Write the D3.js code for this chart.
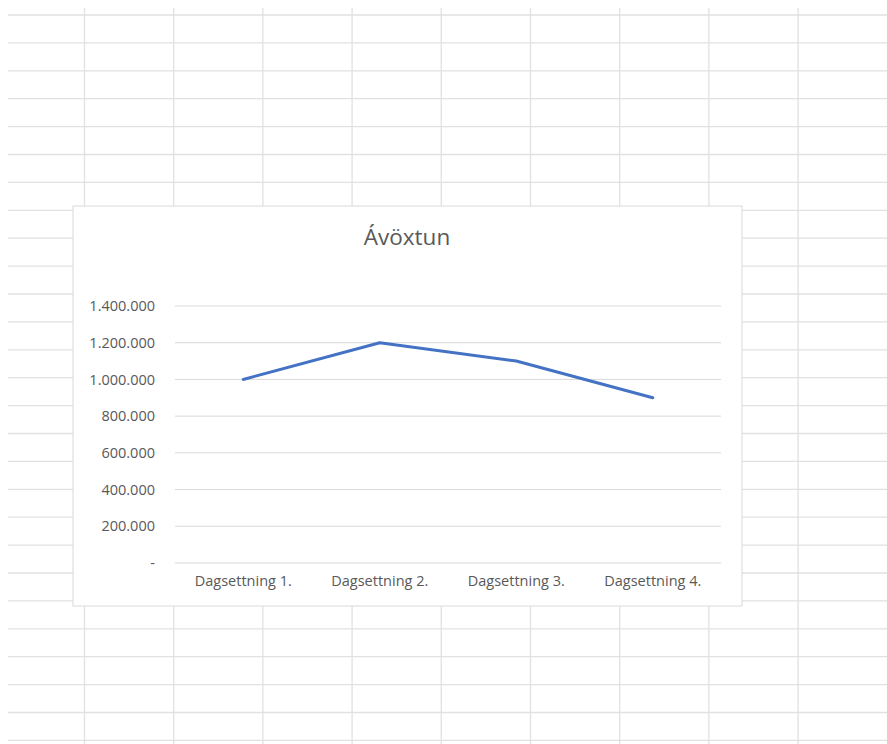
<!DOCTYPE html>
<html>
<head>
<meta charset="utf-8">
<script src="https://cdn.jsdelivr.net/npm/d3@7"></script>
<style>
  body { margin: 0; background: #fff; }
  svg { display: block; }
</style>
</head>
<body>
<div id="canvas"></div>
<script>
// data
const categories = ["Dagsettning 1.", "Dagsettning 2.", "Dagsettning 3.", "Dagsettning 4."];
const values = [1000000, 1200000, 1100000, 900000];
const yTicks = [0, 200000, 400000, 600000, 800000, 1000000, 1200000, 1400000];
const title = "Ávöxtun";

const width = 887;
const height = 744;

const svg = d3.select("#canvas").append("svg")
    .attr("width", width)
    .attr("height", height);

// spreadsheet cells behind the chart
const sheet = svg.append("g").attr("stroke", "#e1e1e1").attr("stroke-width", 1.3);
sheet.selectAll("line.row").data(d3.range(15, height, 27.9)).enter().append("line")
    .attr("x1", 8).attr("x2", width)
    .attr("y1", d => d).attr("y2", d => d);
sheet.selectAll("line.col").data(d3.range(84.5, width, 89.2)).enter().append("line")
    .attr("x1", d => d).attr("x2", d => d)
    .attr("y1", 8).attr("y2", height);

// chart box
const box = { x: 73, y: 206, w: 669, h: 400 };
svg.append("rect")
    .attr("x", box.x).attr("y", box.y)
    .attr("width", box.w).attr("height", box.h)
    .attr("fill", "#fff")
    .attr("stroke", "#d9d9d9");

svg.append("text")
    .attr("x", 407).attr("y", 245)
    .attr("text-anchor", "middle")
    .attr("font-family", "Open Sans, sans-serif")
    .attr("font-size", 22.5)
    .attr("fill", "#595959")
    .text(title);

const margin = { top: 306, left: 175, right: 721, bottom: 563 };

const x = d3.scaleBand()
    .domain(categories)
    .range([margin.left, margin.right]);

const y = d3.scaleLinear()
    .domain([0, 1400000])
    .range([margin.bottom, margin.top]);

const fmt = d => d === 0 ? "-" : d3.format(",")(d).replace(/,/g, ".");

// gridlines
svg.append("g")
    .selectAll("line").data(yTicks).enter().append("line")
    .attr("x1", margin.left).attr("x2", margin.right)
    .attr("y1", d => y(d)).attr("y2", d => y(d))
    .attr("stroke", "#d9d9d9")
    .attr("stroke-width", 1);

// y axis labels
const yAxis = svg.append("g")
    .attr("transform", `translate(${margin.left - 12},0)`)
    .call(d3.axisLeft(y).tickValues(yTicks).tickFormat(fmt).tickSize(0).tickPadding(8));
yAxis.select(".domain").remove();
yAxis.selectAll("text")
    .attr("font-family", "Open Sans, sans-serif")
    .attr("font-size", 14.5)
    .attr("fill", "#595959");

// x axis labels
const xAxis = svg.append("g")
    .attr("transform", `translate(0,${margin.bottom})`)
    .call(d3.axisBottom(x).tickSize(0).tickPadding(13));
xAxis.select(".domain").remove();
xAxis.selectAll("text")
    .attr("font-family", "Open Sans, sans-serif")
    .attr("font-size", 14.5)
    .attr("fill", "#595959");

// line
const line = d3.line()
    .x((d, i) => x(categories[i]) + x.bandwidth() / 2)
    .y(d => y(d));

svg.append("path")
    .datum(values)
    .attr("d", line)
    .attr("fill", "none")
    .attr("stroke", "#4472c4")
    .attr("stroke-width", 3)
    .attr("stroke-linecap", "round")
    .attr("stroke-linejoin", "round");
</script>
</body>
</html>
